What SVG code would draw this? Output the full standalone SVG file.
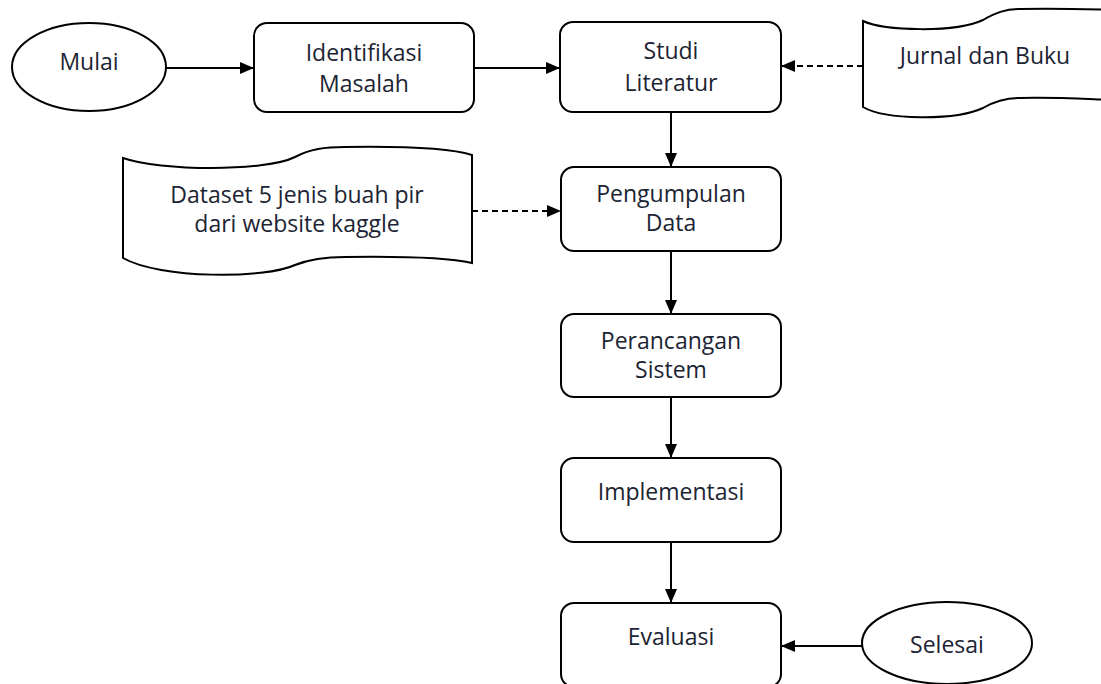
<svg xmlns="http://www.w3.org/2000/svg" width="1101" height="684" viewBox="0 0 1101 684">
<defs>
<marker id="ah" viewBox="0 0 14 12" refX="14" refY="6" markerWidth="14" markerHeight="12" markerUnits="userSpaceOnUse" orient="auto">
<path d="M0,0 L14,6 L0,12 Z" fill="#000"/>
</marker>
<style>
.s{fill:#fff;stroke:#000;stroke-width:2}
.t{font-family:"Open Sans","Liberation Sans",sans-serif;font-size:23px;fill:#1c2433;text-anchor:middle}
.c{stroke:#000;stroke-width:2;fill:none;marker-end:url(#ah)}
.d{stroke-dasharray:6 4}
</style>
</defs>
<rect width="1101" height="684" fill="#fff"/>
<g id="mulai">
<ellipse class="s" cx="89" cy="67" rx="77" ry="44"/>
<text class="t" x="89" y="70">Mulai</text>
</g>
<g id="identifikasi">
<rect class="s" x="254" y="23" width="220" height="89" rx="13"/>
<text class="t" x="364" y="61">Identifikasi</text>
<text class="t" x="364" y="92">Masalah</text>
</g>
<g id="studi">
<rect class="s" x="560" y="22" width="221" height="90" rx="13"/>
<text class="t" x="671" y="59">Studi</text>
<text class="t" x="671" y="91">Literatur</text>
</g>
<g id="jurnal">
<path class="s" d="M863,21 C885,31 955,33 983,20 C995,13 1005,9 1020,9 C1050,8 1085,9 1115,10 L1115,100 C1085,99 1050,97 1020,98 C1005,98 995,101 983,108 C955,121 885,120 863,107 Z"/>
<text class="t" x="985" y="64">Jurnal dan Buku</text>
</g>
<g id="dataset">
<path class="s" d="M123,158 C160,171 265,172 295,157 C310,149 325,147 345,147 C410,146 450,148 472,155 L472,263 C450,258 410,256 345,257 C325,257 310,259 295,265 C265,279 160,279 123,258 Z"/>
<text class="t" x="297" y="203">Dataset 5 jenis buah pir</text>
<text class="t" x="297" y="232">dari website kaggle</text>
</g>
<g id="pengumpulan">
<rect class="s" x="561" y="167" width="220" height="84" rx="13"/>
<text class="t" x="671" y="202">Pengumpulan</text>
<text class="t" x="671" y="231">Data</text>
</g>
<g id="perancangan">
<rect class="s" x="561" y="314" width="220" height="83" rx="13"/>
<text class="t" x="671" y="349">Perancangan</text>
<text class="t" x="671" y="378">Sistem</text>
</g>
<g id="implementasi">
<rect class="s" x="561" y="458" width="220" height="84" rx="13"/>
<text class="t" x="671" y="500">Implementasi</text>
</g>
<g id="evaluasi">
<rect class="s" x="561" y="603" width="220" height="84" rx="13"/>
<text class="t" x="671" y="645">Evaluasi</text>
</g>
<g id="selesai">
<ellipse class="s" cx="947" cy="643" rx="85" ry="41"/>
<text class="t" x="947" y="653">Selesai</text>
</g>
<g id="connectors">
<line class="c" x1="166" y1="68" x2="254" y2="68"/>
<line class="c" x1="474" y1="68" x2="560" y2="68"/>
<line class="c d" x1="863" y1="66" x2="781" y2="66"/>
<line class="c" x1="671" y1="112" x2="671" y2="167"/>
<line class="c d" x1="472" y1="211" x2="561" y2="211"/>
<line class="c" x1="671" y1="251" x2="671" y2="314"/>
<line class="c" x1="671" y1="397" x2="671" y2="458"/>
<line class="c" x1="671" y1="542" x2="671" y2="603"/>
<line class="c" x1="862" y1="646" x2="781" y2="646"/>
</g>
</svg>
